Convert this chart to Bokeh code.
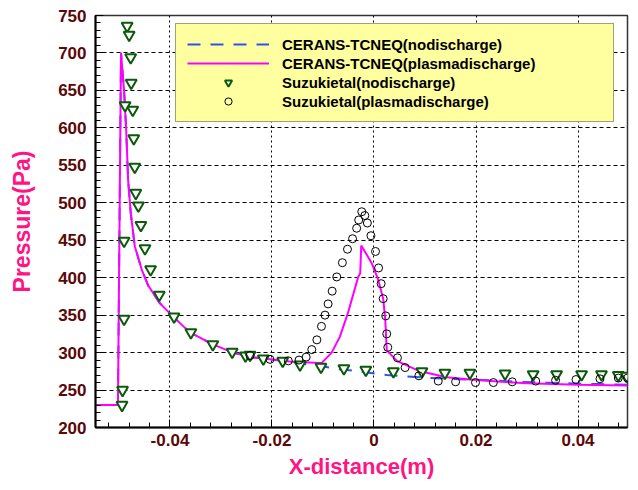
import numpy as np
from bokeh.plotting import figure
from bokeh.models import (Legend, LegendItem, FixedTicker, SingleIntervalTicker,
                          CustomJSTickFormatter, Range1d)
from bokeh.embed import file_html
from bokeh.resources import INLINE

# CERANS-TCNEQ (plasma discharge)
plasma_x = [-0.0546, -0.0502, -0.0496, -0.0490, -0.0486, -0.0482, -0.0477, -0.0469,
            -0.0455, -0.0443, -0.0420, -0.0394, -0.0361, -0.0316, -0.0276, -0.0243,
            -0.0204, -0.0165, -0.0139, -0.0103, -0.0083, -0.0067, -0.0051, -0.0031,
            -0.0027, -0.0025, -0.0018, -0.0005, 0.0008, 0.0018, 0.0022, 0.0025,
            0.0045, 0.0090, 0.0143, 0.0188, 0.0250, 0.0300, 0.0350, 0.0400, 0.0497]
plasma_p = [230, 230, 700, 650, 600, 530, 487, 442,
            410, 390, 366, 348, 327, 311, 300, 294,
            291, 288, 287, 286, 300, 321, 353, 401,
            406, 443, 435, 420, 398, 372, 345, 303,
            289, 275, 267, 264, 261, 259, 258, 257, 256]

# CERANS-TCNEQ (no discharge)
nodis_x = [-0.0546, -0.0502, -0.0496, -0.0490, -0.0486, -0.0482, -0.0477, -0.0469,
           -0.0455, -0.0443, -0.0420, -0.0394, -0.0361, -0.0316, -0.0276, -0.0243,
           -0.0204, -0.0165, -0.0139, -0.0104, -0.0073, -0.0030, 0.0025, 0.0090,
           0.0143, 0.0230, 0.0280, 0.0380, 0.0440, 0.0497]
nodis_p = [230, 230, 700, 650, 600, 530, 487, 442,
           410, 390, 366, 348, 327, 311, 300, 294,
           291, 288, 285, 282, 278, 275, 270, 267,
           265, 263, 261, 259, 258, 257]

# Suzuki et al. (no discharge)
suz_nd_x = [-0.0484, -0.0480, -0.0477, -0.0476, -0.0488, -0.0473, -0.0471, -0.0469,
            -0.0467, -0.0462, -0.0457, -0.0490, -0.0449, -0.0438, -0.0421, -0.0490,
            -0.0392, -0.0359, -0.0316, -0.0278, -0.0252, -0.0243, -0.0217, -0.0179,
            -0.0145, -0.0104, -0.0059, -0.0016, 0.0038, 0.0094, 0.0139, 0.0188,
            0.0257, 0.0312, 0.0358, 0.0407, 0.0446, 0.0479, 0.0495, -0.0493, -0.0494]
suz_nd_p = [736, 724, 694, 660, 630, 624, 586, 548,
            513, 496, 470, 449, 439, 411, 377, 345,
            348, 327, 311, 301, 296, 297, 292, 289,
            284, 281, 279, 277, 275, 275, 273, 273,
            272, 271, 271, 271, 271, 270, 269, 250, 230]

# Suzuki et al. (plasma discharge)
suz_pd_x = [-0.0243, -0.0204, -0.0168, -0.0147, -0.0133, -0.0122, -0.0112, -0.0103,
            -0.0096, -0.0090, -0.0082, -0.0073, -0.0062, -0.0052, -0.0042, -0.0034,
            -0.0030, -0.0024, -0.0018, -0.0013, -0.0006, 0.0003, 0.0009, 0.0014,
            0.0018, 0.0023, 0.0025, 0.0027, 0.0046, 0.0061, 0.0088, 0.0126,
            0.0160, 0.0199, 0.0234, 0.0271, 0.0317, 0.0356, 0.0396, 0.0443, 0.0479, 0.0497]
suz_pd_p = [296, 291, 289, 290, 294, 304, 317, 335,
            350, 365, 382, 401, 420, 438, 452, 466,
            477, 488, 483, 473, 456, 435, 413, 392,
            372, 349, 325, 307, 293, 280, 269, 262,
            261, 260, 260, 261, 262, 263, 264, 265, 266, 266]

x_major = [-0.04, -0.02, 0.0, 0.02, 0.04]

FONT = "Liberation Sans"
TICK_COLOR = "#5a0808"
LABEL_COLOR = "#ff1484"

p = figure(width=633, height=481, output_backend="svg", toolbar_location=None,
           x_range=Range1d(-0.0546, 0.0497), y_range=Range1d(200, 750),
           min_border_left=95, min_border_top=15, min_border_right=6, min_border_bottom=52)
p.background_fill_color = "white"
p.outline_line_color = "#333333"
p.outline_line_width = 1.5

r_nd = p.line(nodis_x, nodis_p, line_color="#3050f0", line_width=2, line_dash="13 10")
r_pl = p.line(plasma_x, plasma_p, line_color="#ff00ff", line_width=2)
r_snd = p.scatter(suz_nd_x, suz_nd_p, marker="inverted_triangle", size=11,
                  line_color="#0a5a0a", line_width=2, fill_color="white")
r_spd = p.scatter(suz_pd_x, suz_pd_p, marker="circle", size=8,
                  line_color="black", line_width=1, fill_color=None)

# axes
p.xaxis.ticker = FixedTicker(ticks=x_major,
                             minor_ticks=list(np.round(np.arange(-0.052, 0.0501, 0.004), 4)))
p.xaxis.formatter = CustomJSTickFormatter(
    code="return Math.abs(tick) < 1e-9 ? '0' : tick.toFixed(2);")
p.yaxis.ticker = SingleIntervalTicker(interval=50, num_minor_ticks=5)

for ax in (p.xaxis, p.yaxis):
    ax.major_tick_in = 8
    ax.major_tick_out = 0
    ax.minor_tick_in = 5
    ax.minor_tick_out = 0
    ax.axis_line_color = "black"
    ax.axis_line_width = 2
    ax.major_tick_line_color = "black"
    ax.minor_tick_line_color = "black"
    ax.major_label_text_font = FONT
    ax.major_label_text_font_style = "bold"
    ax.major_label_text_font_size = "17px"
    ax.major_label_text_color = TICK_COLOR
    ax.axis_label_text_font = FONT
    ax.axis_label_text_font_style = "bold"
    ax.axis_label_text_color = LABEL_COLOR

p.xaxis.axis_label = "X-distance(m)"
p.yaxis.axis_label = "Pressure(Pa)"
p.xaxis.axis_label_text_font_size = "22px"
p.yaxis.axis_label_text_font_size = "23px"
p.xaxis.major_label_standoff = 6
p.yaxis.major_label_standoff = 9
p.xaxis.axis_label_standoff = 5
p.yaxis.axis_label_standoff = 20

p.xgrid.grid_line_color = "black"
p.xgrid.grid_line_dash = "2 3"
p.xgrid.grid_line_width = 1
p.ygrid.grid_line_color = "black"
p.ygrid.grid_line_dash = "4 3"
p.ygrid.grid_line_width = 1

legend = Legend(items=[
    LegendItem(label="CERANS-TCNEQ(nodischarge)", renderers=[r_nd]),
    LegendItem(label="CERANS-TCNEQ(plasmadischarge)", renderers=[r_pl]),
    LegendItem(label="Suzukietal(nodischarge)", renderers=[r_snd]),
    LegendItem(label="Suzukietal(plasmadischarge)", renderers=[r_spd]),
], location=(80, 305))
legend.background_fill_color = "#ffffa0"
legend.background_fill_alpha = 1
legend.border_line_color = "#444444"
legend.border_line_width = 1.5
legend.label_text_font = FONT
legend.label_text_font_style = "bold"
legend.label_text_font_size = "15px"
legend.label_text_color = "black"
legend.glyph_width = 82
legend.glyph_height = 18
legend.label_height = 18
legend.label_standoff = 13
legend.label_width = 320
legend.padding = 11
legend.spacing = 1
legend.margin = 0
p.add_layout(legend, "center")

open("out.html", "w").write(file_html(p, INLINE))
